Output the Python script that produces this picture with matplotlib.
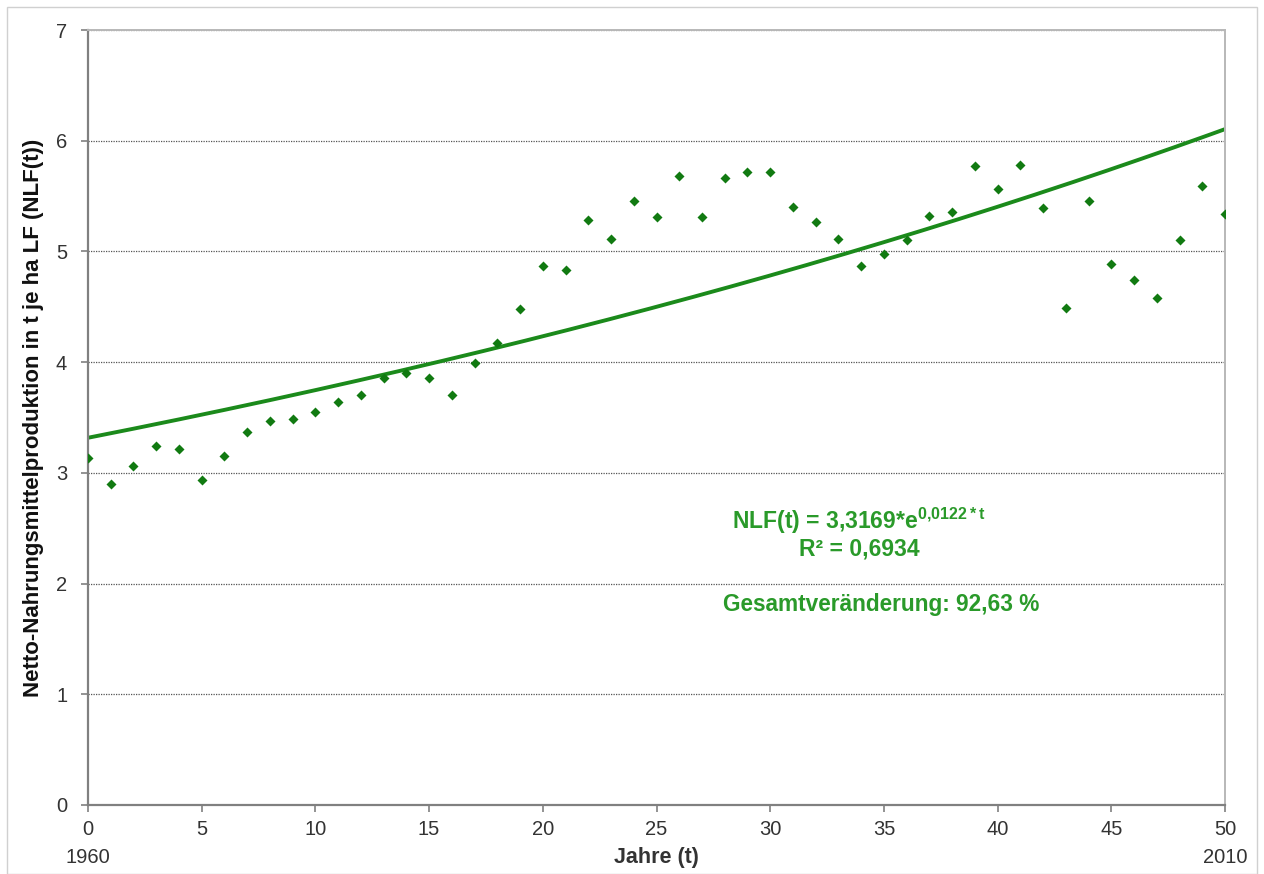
import matplotlib
matplotlib.use("Agg")
import matplotlib.pyplot as plt
import numpy as np
from matplotlib.patches import Rectangle

# Jahre seit 1960 und Netto-Nahrungsmittelproduktion (t je ha LF)
years_t = list(range(0, 51))
nlf_values = [
    3.13, 2.90, 3.06, 3.24, 3.22, 2.94, 3.15, 3.37, 3.47, 3.49,
    3.55, 3.64, 3.70, 3.86, 3.90, 3.86, 3.70, 3.99, 4.17, 4.48,
    4.87, 4.83, 5.28, 5.11, 5.46, 5.31, 5.68, 5.31, 5.66, 5.72,
    5.72, 5.40, 5.27, 5.11, 4.87, 4.98, 5.10, 5.32, 5.36, 5.77,
    5.56, 5.78, 5.39, 4.49, 5.46, 4.89, 4.74, 4.58, 5.10, 5.59,
    5.34,
]
fit_a = 3.3169
fit_b = 0.0122
xticks = [0, 5, 10, 15, 20, 25, 30, 35, 40, 45, 50]
yticks = [0, 1, 2, 3, 4, 5, 6, 7]

plt.rcParams["font.family"] = ["Liberation Sans", "DejaVu Sans"]
plt.rcParams["mathtext.fontset"] = "custom"
plt.rcParams["mathtext.bf"] = "Liberation Sans:bold"
plt.rcParams["mathtext.rm"] = "Liberation Sans"

marker_col = "#117a11"
line_col = "#1b8a1b"
text_col = "#2a9a2a"
axis_col = "#808080"
tick_col = "#333333"


def main():
    fig = plt.figure(figsize=(12.64, 8.74), dpi=100)
    fig.patches.append(Rectangle((7 / 1264, 0), 1 - 14 / 1264, 1 - 7 / 874,
                                 transform=fig.transFigure, fill=False,
                                 edgecolor="#d0d0d0", linewidth=1.0))
    ax = fig.add_axes([88 / 1264, 69 / 874, 1137 / 1264, 775 / 874])

    ax.scatter(years_t, nlf_values, marker="D", s=26, color=marker_col, zorder=3,
               linewidths=0)
    t = np.linspace(0, 50, 300)
    ax.plot(t, fit_a * np.exp(fit_b * t), color=line_col, linewidth=2.8, zorder=2)

    ax.set_xlim(0, 50)
    ax.set_ylim(0, 7)
    ax.set_xticks(xticks)
    ax.set_yticks(yticks)
    ax.tick_params(axis="both", labelsize=14.5, colors=axis_col, labelcolor=tick_col,
                   direction="out", length=5, width=1.2)
    ax.tick_params(axis="x", pad=6)
    ax.tick_params(axis="y", pad=10)
    ax.grid(axis="y", color="#555555", linestyle=(0, (1, 1)), linewidth=0.9)
    ax.grid(axis="x", visible=False)
    for side in ["left", "bottom"]:
        ax.spines[side].set_color(axis_col)
        ax.spines[side].set_linewidth(1.6)
    for side in ["top", "right"]:
        ax.spines[side].set_color("#b8b8b8")
        ax.spines[side].set_linewidth(1.4)

    for xv, lab in [(0, "1960"), (50, "2010")]:
        ax.text(xv, -0.068, lab, transform=ax.get_xaxis_transform(), ha="center",
                va="center", fontsize=14.5, color=tick_col)

    ax.set_xlabel("Jahre (t)", fontsize=15.5, fontweight="bold", color=tick_col)
    ax.xaxis.set_label_coords(0.5, -0.068)
    ax.xaxis.label.set_va("center")
    ax.set_ylabel("Netto-Nahrungsmittelproduktion in t je ha LF (NLF(t))",
                  fontsize=16, fontweight="bold", color="#111111")
    ax.yaxis.set_label_coords(-0.048, 0.5)
    ax.yaxis.label.set_va("center")

    ax.text(33.9, 2.57, r"NLF(t) = 3,3169*e$^{\mathbf{0{,}0122*t}}$", ha="center",
            va="center", fontsize=16.5, fontweight="bold", color=text_col)
    ax.text(33.9, 2.31, "R² = 0,6934", ha="center", va="center", fontsize=16.5,
            fontweight="bold", color=text_col)
    ax.text(34.9, 1.81, "Gesamtveränderung: 92,63 %", ha="center", va="center",
            fontsize=16.3, fontweight="bold", color=text_col)

    fig.savefig("out.png", dpi=100)
    plt.close(fig)


if __name__ == "__main__":
    main()
